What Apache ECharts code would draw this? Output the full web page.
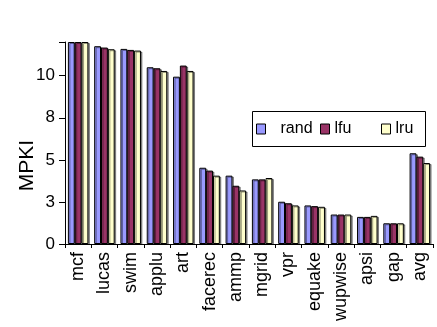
<!DOCTYPE html>
<html><head><meta charset="utf-8">
<script src="https://cdn.jsdelivr.net/npm/echarts@6/dist/echarts.min.js"></script>
<style>html,body{margin:0;padding:0;background:#fff}#c{width:437px;height:327px}</style>
</head><body><div id="c"></div>
<script>
const categories = ['mcf','lucas','swim','applu','art','facerec','ammp','mgrid','vpr','equake','wupwise','apsi','gap','avg'];
const rand = [12, 11.75, 11.59, 10.50, 9.94, 4.53, 4.06, 3.84, 2.51, 2.29, 1.75, 1.61, 1.23, 5.39];
const lfu  = [12, 11.67, 11.53, 10.44, 10.60, 4.36, 3.46, 3.84, 2.42, 2.25, 1.75, 1.61, 1.23, 5.19];
const lru  = [12, 11.57, 11.49, 10.28, 10.28, 4.06, 3.18, 3.92, 2.29, 2.21, 1.75, 1.67, 1.23, 4.81];
const yTicks = [0, 2.5, 5, 7.5, 10];

const FONT = '"Liberation Sans", Arial, sans-serif';
const chart = echarts.init(document.getElementById('c'), null, {renderer: 'canvas'});
const barStyle = (color) => ({
  color: color, borderColor: '#000', borderWidth: 1,
  shadowColor: 'rgba(0,0,0,0.4)', shadowOffsetX: 1.5, shadowOffsetY: 1, shadowBlur: 0
});
const legendBase = (name, left, pad) => ({
  data: [name], left: left, top: 121, padding: 0, itemWidth: 9, itemHeight: 10, itemGap: 0,
  icon: 'rect',
  textStyle: {fontFamily: FONT, fontSize: 16, color: '#000', padding: [0,0,0,pad]},
  itemStyle: {borderColor: '#000', borderWidth: 1, shadowBlur: 0, shadowOffsetX: 0, shadowOffsetY: 0},
  selectedMode: false
});
chart.setOption({
  animation: false,
  backgroundColor: '#fff',
  grid: {left: 65, right: 4, top: 42, bottom: 83, containLabel: false},
  graphic: [{type: 'rect', shape: {x: 252.5, y: 111.5, width: 173, height: 35},
    style: {fill: '#fff', stroke: '#000', lineWidth: 1}, z: 0}],
  legend: [legendBase('rand', 256, 10), legendBase('lfu', 320, 0), legendBase('lru', 381, 0)],
  xAxis: {
    type: 'category', data: categories,
    axisLine: {lineStyle: {color: '#000', width: 1}},
    axisTick: {show: true, length: 4, lineStyle: {color: '#000'}},
    axisLabel: {rotate: 90, fontFamily: FONT, fontSize: 18, color: '#000', margin: 8, interval: 0}
  },
  yAxis: {
    type: 'value', min: 0, max: 12, interval: 2.5,
    name: 'MPKI', nameLocation: 'middle', nameGap: 27, nameMoveOverlap: false,
    nameTextStyle: {fontFamily: FONT, fontSize: 21, color: '#000', padding: [0, 45, 0, 0]},
    axisLine: {show: true, lineStyle: {color: '#000', width: 1}},
    axisTick: {show: true, length: 6, lineStyle: {color: '#000'}},
    splitLine: {show: false},
    axisLabel: {fontFamily: FONT, fontSize: 17, color: '#000', margin: 10,
      formatter: v => (yTicks.indexOf(v) >= 0 ? String(Math.round(v)) : '')}
  },
  series: [
    {name: 'rand', type: 'bar', data: rand, itemStyle: barStyle('#9999ff'), barGap: '0%', barCategoryGap: '22%'},
    {name: 'lfu', type: 'bar', data: lfu, itemStyle: barStyle('#993366')},
    {name: 'lru', type: 'bar', data: lru, itemStyle: barStyle('#ffffcc')}
  ]
});
</script></body></html>
